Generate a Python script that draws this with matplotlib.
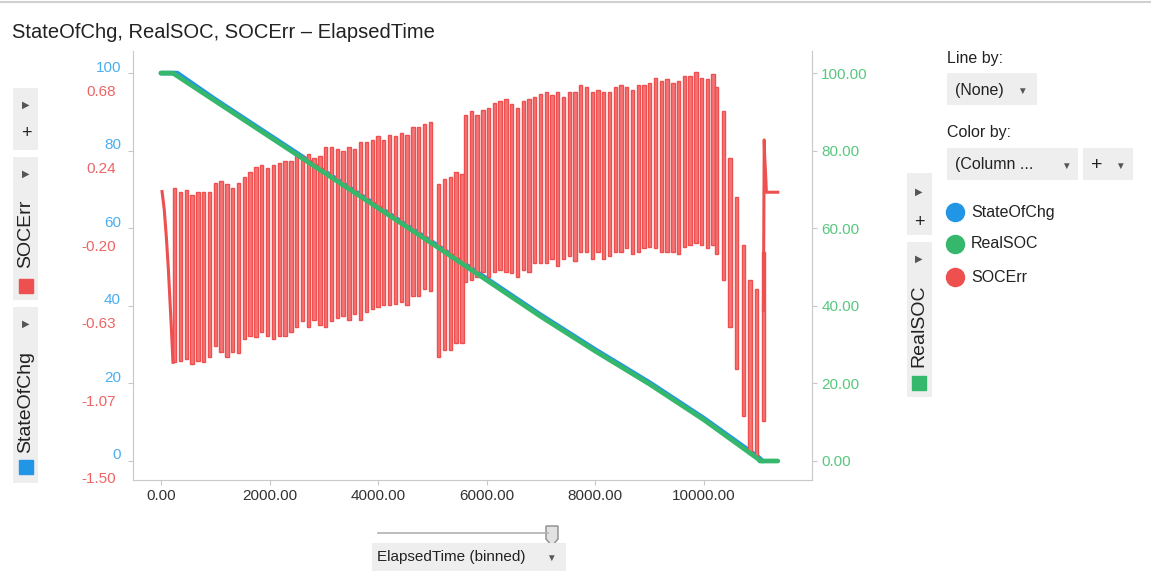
import numpy as np
import matplotlib
matplotlib.use('Agg')
import matplotlib.pyplot as plt
import matplotlib.transforms as mtransforms
from matplotlib.patches import Rectangle, Polygon
from matplotlib.lines import Line2D

plt.rcParams['font.family'] = ['Liberation Sans', 'DejaVu Sans']

# ---- data ----
# StateOfChg / RealSOC, percent
chg_time = [0, 300, 1000, 2000, 3000, 4000, 5000, 6000, 7000, 8000, 9000, 10000, 11000, 11080]
state_of_chg = [100, 100, 93.2, 84.0, 74.8, 65.6, 56.4, 47.0, 37.6, 28.7, 20.2, 11.0, 1.0, 0.0]
real_time = [0, 220, 1000, 2000, 3000, 4000, 5000, 6000, 7000, 8000, 9000, 10000, 11000, 11030, 11360]
real_soc = [100, 100, 92.8, 83.6, 74.4, 65.2, 56.0, 46.6, 37.2, 28.3, 19.8, 10.6, 0.5, 0.0, 0.0]

# SOCErr: first slow drop, then charge/discharge cycles (peak, trough per bin)
err_head_t = [20, 60, 100, 135, 165, 195, 221]
err_head = [0.01, -0.09, -0.25, -0.42, -0.60, -0.78, -0.95]

seg_a_start, seg_a_step = 221, 107
seg_a_peak = [0.03, 0.01, 0.02, -0.01, 0.01, 0.01, 0.01, 0.06, 0.07, 0.05, 0.03, 0.06, 0.09, 0.12,
              0.15, 0.16, 0.14, 0.16, 0.17, 0.18, 0.18, 0.22, 0.21, 0.22, 0.20, 0.21, 0.26, 0.26,
              0.25, 0.24, 0.26, 0.25, 0.29, 0.29, 0.30, 0.32, 0.30, 0.33, 0.32, 0.34, 0.33, 0.37,
              0.37, 0.39, 0.40]
seg_a_low = [-0.95, -0.94, -0.93, -0.96, -0.94, -0.95, -0.92, -0.86, -0.89, -0.92, -0.89, -0.90,
             -0.82, -0.80, -0.81, -0.78, -0.80, -0.82, -0.80, -0.80, -0.78, -0.75, -0.72, -0.75,
             -0.71, -0.74, -0.75, -0.72, -0.70, -0.69, -0.71, -0.68, -0.71, -0.67, -0.65, -0.64,
             -0.63, -0.63, -0.62, -0.61, -0.63, -0.58, -0.58, -0.54, -0.55]

seg_b_start, seg_b_step = 5083, 107
seg_b_peak = [0.05, 0.08, 0.09, 0.12, 0.11]
seg_b_low = [-0.92, -0.88, -0.88, -0.84, -0.84]

seg_c_start, seg_c_step = 5580, 106
seg_c_peak = [0.44, 0.46, 0.44, 0.47, 0.48, 0.51, 0.52, 0.53, 0.50, 0.48, 0.52, 0.53, 0.54,
              0.56, 0.57, 0.55, 0.57, 0.54, 0.57, 0.57, 0.61, 0.60, 0.57, 0.58, 0.57, 0.57,
              0.60, 0.61, 0.60, 0.58, 0.61, 0.61, 0.62, 0.65, 0.63,
              0.64, 0.62, 0.63, 0.66, 0.66, 0.68, 0.65, 0.64, 0.67]
seg_c_low = [-0.50, -0.49, -0.47, -0.44, -0.47, -0.44, -0.43, -0.44, -0.45, -0.47, -0.43, -0.44,
             -0.39, -0.39, -0.39, -0.37, -0.41, -0.37, -0.35, -0.38, -0.33, -0.33, -0.37, -0.33,
             -0.37, -0.35, -0.33, -0.33, -0.31, -0.34, -0.33, -0.31, -0.30, -0.31, -0.33,
             -0.33, -0.33, -0.34, -0.30, -0.29, -0.28, -0.29, -0.31, -0.29]

seg_d_start, seg_d_step = 10203, 123
seg_d_peak = [0.60, 0.46, 0.20, -0.02, -0.29, -0.49, -0.54, -0.33]
seg_d_low = [-0.34, -0.49, -0.75, -0.99, -1.25, -1.46, -1.49, -1.28]

err_tail_t = [11095, 11110, 11118, 11135, 11150, 11360]
err_tail = [-0.66, 0.30, 0.21, 0.11, 0.006, 0.006]

x_ticks = [0, 2000, 4000, 6000, 8000, 10000]
soc_ticks = [0, 20, 40, 60, 80, 100]
err_min, err_max = -1.5047, 0.6756

BLUE, GREEN, RED = '#2196E6', '#35B86C', '#EE4F4F'
BLUE_T, GREEN_T, RED_T = '#4AAEF0', '#58C77E', '#EE6464'
GRID = '#C8C8C8'

W, H = 1151, 584
fig = plt.figure(figsize=(W / 100, H / 100), dpi=100)


def fx(px):
    return px / W


def fy(py):
    return 1 - py / H


ax = fig.add_axes([fx(133), fy(480), fx(812) - fx(133), fy(51) - fy(480)])
ax_err = ax.twinx()
ax_real = ax.twinx()

soc_lim = (-4.9, 105.7)
span = err_max - err_min

# StateOfChg (bottom layer)
ax.plot(chg_time, state_of_chg, color=BLUE, lw=3.4, solid_capstyle='round')
ax.set_xlim(-515, 11990)
ax.set_ylim(*soc_lim)
ax.set_xticks(x_ticks)
ax.set_xticklabels([f'{v:.2f}' for v in x_ticks])
ax.set_yticks(soc_ticks)
ax.set_yticklabels([str(v) for v in soc_ticks])
for s in ['top', 'right']:
    ax.spines[s].set_visible(False)
for s in ['left', 'bottom']:
    ax.spines[s].set_color(GRID)
ax.tick_params(axis='x', length=3.6, color=GRID, labelsize=11, labelcolor='#333333', pad=3)
ax.tick_params(axis='y', length=3.6, color=GRID, labelsize=11, labelcolor=BLUE_T, pad=5)

# SOCErr
for start, step, peaks, lows in [(seg_a_start, seg_a_step, seg_a_peak, seg_a_low),
                                 (seg_b_start, seg_b_step, seg_b_peak, seg_b_low),
                                 (seg_c_start, seg_c_step, seg_c_peak, seg_c_low),
                                 (seg_d_start, seg_d_step, seg_d_peak, seg_d_low)]:
    t = start + step * np.arange(len(peaks))
    peaks = np.array(peaks)
    lows = np.array(lows)
    ax_err.bar(t, peaks - lows, bottom=lows, width=62, align='edge',
               color='#F37676', edgecolor='#EE5050', linewidth=1.0)
ax_err.plot(err_head_t, err_head, color=RED, lw=2.2)
ax_err.plot(err_tail_t, err_tail, color=RED, lw=2.2)
ax_err.set_ylim(err_min + soc_lim[0] / 100 * span, err_min + soc_lim[1] / 100 * span)
err_ticks = np.linspace(err_min, err_max, 6)
ax_err.set_yticks(err_ticks)
ax_err.set_yticklabels([f'{v:.2f}' for v in err_ticks])
ax_err.tick_params(axis='y', left=False, right=False, labelleft=True, labelright=False,
                   labelsize=11, labelcolor=RED_T, pad=8.6)
for s in ax_err.spines.values():
    s.set_visible(False)

# RealSOC (top layer)
ax_real.plot(real_time, real_soc, color=GREEN, lw=3.4, solid_capstyle='round')
ax_real.set_ylim(*soc_lim)
ax_real.set_yticks(soc_ticks)
ax_real.set_yticklabels([f'{v:.2f}' for v in soc_ticks])
ax_real.tick_params(axis='y', length=3.6, color=GRID, labelsize=11, labelcolor=GREEN_T, pad=3)
for s in ['top', 'left', 'bottom']:
    ax_real.spines[s].set_visible(False)
ax_real.spines['right'].set_color(GRID)

# stacked left labels: blue above the tick, red below
up = mtransforms.ScaledTranslation(0, 0.07, fig.dpi_scale_trans)
down = mtransforms.ScaledTranslation(0, -0.17, fig.dpi_scale_trans)
for lbl in ax.get_yticklabels():
    lbl.set_transform(lbl.get_transform() + up)
for lbl in ax_err.get_yticklabels():
    lbl.set_transform(lbl.get_transform() + down)


# ---- surrounding UI ----
def box(x0, y0, x1, y1, color='#EEEEEE'):
    fig.add_artist(Rectangle((fx(x0), fy(y1)), fx(x1) - fx(x0), fy(y0) - fy(y1),
                             transform=fig.transFigure, facecolor=color, edgecolor='none'))


def label(x, y, s, size=11, color='#222222', **kw):
    kw.setdefault('ha', 'left')
    kw.setdefault('va', 'center')
    fig.text(fx(x), fy(y), s, fontsize=size, color=color, **kw)


def dot(x, y, color, marker='o', ms=12):
    fig.add_artist(Line2D([fx(x)], [fy(y)], marker=marker, ms=ms, color=color,
                          transform=fig.transFigure, lw=0))


fig.add_artist(Line2D([0, 1], [fy(2), fy(2)], color='#D0D0D0', lw=1.5, transform=fig.transFigure))
label(12, 32, 'StateOfChg, RealSOC, SOCErr \u2013 ElapsedTime', size=14.5)

# left axis selectors
box(13, 88, 38, 150)
label(26, 105, '\u25b6', size=7, color='#555555', ha='center')
label(26, 134, '+', size=13, ha='center')
box(13, 157, 38, 300)
label(26, 174, '\u25b6', size=7, color='#555555', ha='center')
label(26, 234, 'SOCErr', size=14, ha='center', rotation=90)
dot(26, 286, RED, marker='s', ms=10)
box(13, 307, 38, 483)
label(26, 324, '\u25b6', size=7, color='#555555', ha='center')
label(26, 402, 'StateOfChg', size=14, ha='center', rotation=90)
dot(26, 467, BLUE, marker='s', ms=10)

# right axis selectors
box(907, 173, 932, 235)
label(919, 192, '\u25b6', size=7, color='#555555', ha='center')
label(919, 222, '+', size=13, ha='center')
box(907, 242, 932, 397)
label(919, 259, '\u25b6', size=7, color='#555555', ha='center')
label(919, 326, 'RealSOC', size=14, ha='center', rotation=90)
dot(919, 383, GREEN, marker='s', ms=10)

# legend panel
label(947, 59, 'Line by:', size=11.5)
box(947, 73, 1037, 105)
label(955, 90, '(None)', size=11.5)
label(1022, 91, '\u25bc', size=7, color='#555555', ha='center')
label(947, 133, 'Color by:', size=11.5)
box(947, 148, 1078, 180)
label(955, 165, '(Column ...', size=11.5)
label(1066, 166, '\u25bc', size=7, color='#555555', ha='center')
box(1083, 148, 1133, 180)
label(1097, 166, '+', size=14, ha='center')
label(1120, 166, '\u25bc', size=7, color='#555555', ha='center')
for yy, name, col in [(212, 'StateOfChg', BLUE), (244, 'RealSOC', GREEN), (277, 'SOCErr', RED)]:
    dot(955, yy, col, ms=13)
    label(971, yy, name, size=11.5)

# x axis selector with slider
fig.add_artist(Line2D([fx(378), fx(548)], [fy(533), fy(533)], color='#B0B0B0', lw=1.2,
                      transform=fig.transFigure))
fig.add_artist(Polygon([(fx(546), fy(526)), (fx(558), fy(526)), (fx(558), fy(539)),
                        (fx(552), fy(546)), (fx(546), fy(539))], closed=True,
                       transform=fig.transFigure, facecolor='#E2E2E2', edgecolor='#8A8A8A', lw=1))
box(372, 543, 566, 571)
label(377, 557, 'ElapsedTime (binned)', size=11)
label(551, 558, '\u25bc', size=7, color='#555555', ha='center')

fig.savefig('out.png', dpi=100)
